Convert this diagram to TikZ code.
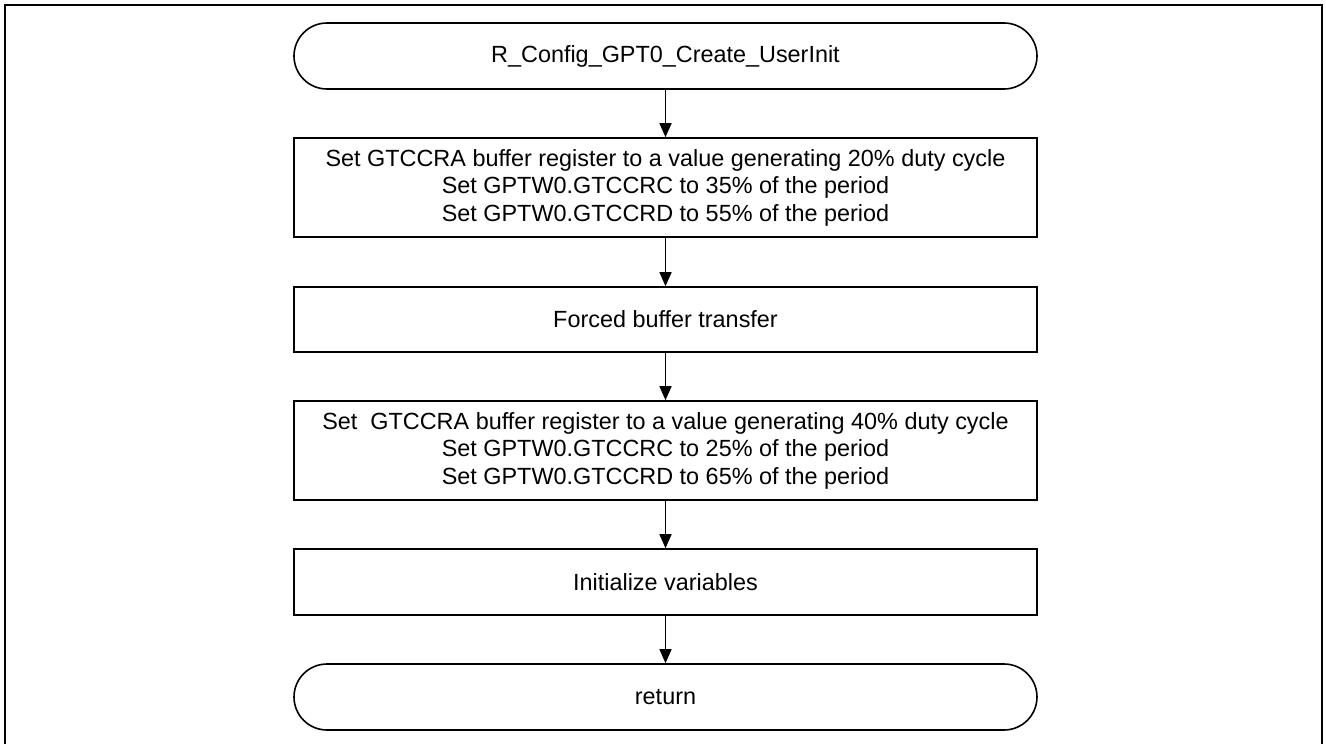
\documentclass[tikz,border=0pt]{standalone}
\usepackage{fontspec}
\setmainfont{Liberation Sans}
\usetikzlibrary{arrows.meta}
\begin{document}
\begin{tikzpicture}[x=1pt,y=-1pt,
  every node/.style={font=\fontsize{23.4}{27.5}\selectfont, align=center, inner sep=0pt},
  procbox/.style={draw, line width=1.6pt, minimum width=743pt},
  termbox/.style={draw, line width=1.6pt, minimum width=743pt, minimum height=66pt, rounded corners=33pt},
  flow/.style={line width=1.6pt, -{Triangle[length=14pt,width=12pt]}}]
\useasboundingbox (0,0) rectangle (1326,744);
\draw[line width=2.2pt] (5,750) -- (5,5) -- (1322,5) -- (1322,750);
\node[termbox] (start) at (665.5,56) {R\_Config\_GPT0\_Create\_UserInit};
\node[procbox, minimum height=99pt] (b1) at (665.5,187.5) {Set GTCCRA buffer register to a value generating 20\% duty cycle\\Set GPTW0.GTCCRC to 35\% of the period\\Set GPTW0.GTCCRD to 55\% of the period};
\node[procbox, minimum height=65pt] (b2) at (665.5,319.5) {Forced buffer transfer};
\node[procbox, minimum height=99pt] (b3) at (665.5,450.5) {Set\ \ GTCCRA buffer register to a value generating 40\% duty cycle\\Set GPTW0.GTCCRC to 25\% of the period\\Set GPTW0.GTCCRD to 65\% of the period};
\node[procbox, minimum height=66pt] (b4) at (665.5,582) {Initialize variables};
\node[termbox] (ret) at (665.5,697) {return};
\draw[flow] (start) -- (b1);
\draw[flow] (b1) -- (b2);
\draw[flow] (b2) -- (b3);
\draw[flow] (b3) -- (b4);
\draw[flow] (b4) -- (ret);
\end{tikzpicture}
\end{document}
